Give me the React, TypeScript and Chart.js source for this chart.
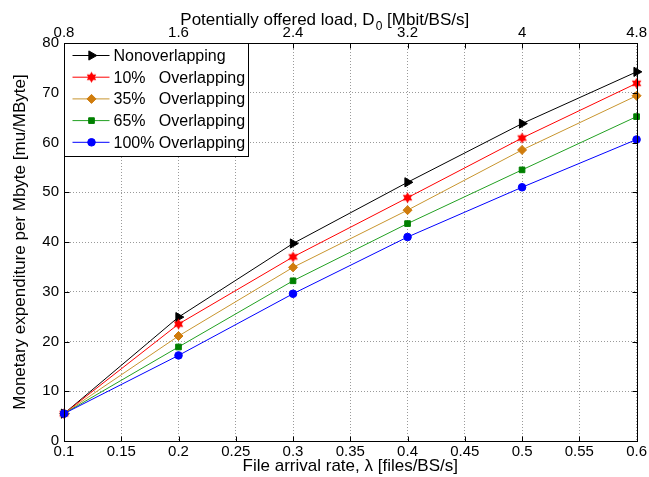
import React, { useEffect, useRef } from 'react';
import { Chart, registerables } from 'chart.js';
import { drawPoint } from 'chart.js/helpers';

Chart.register(...registerables);

// ---- data ----
const xValues = [0.1, 0.2, 0.3, 0.4, 0.5, 0.6];
const seriesLabels = [
  'Nonoverlapping',
  '10%   Overlapping',
  '35%   Overlapping',
  '65%   Overlapping',
  '100% Overlapping',
];
const nonOverlapping = [5.5, 24.9, 39.7, 52.0, 63.8, 74.2];
const overlap10 = [5.5, 23.5, 37.0, 48.9, 60.9, 71.9];
const overlap35 = [5.5, 21.1, 34.9, 46.4, 58.5, 69.4];
const overlap65 = [5.5, 18.9, 32.2, 43.7, 54.5, 65.2];
const overlap100 = [5.5, 17.2, 29.6, 41.0, 51.0, 60.6];
const bottomTickLabels = ['0.1', '0.15', '0.2', '0.25', '0.3', '0.35', '0.4', '0.45', '0.5', '0.55', '0.6'];
const topTickLabels = ['0.8', '1.6', '2.4', '3.2', '4', '4.8'];

const xTitle = 'File arrival rate, \u03bb [files/BS/s]';
const yTitle = 'Monetary expenditure per Mbyte [mu/MByte]';
const topTitleMain = 'Potentially offered load, D';
const topTitleSub = '0';
const topTitleRest = ' [Mbit/BS/s]';

const FONT = '"Liberation Sans", Arial, Helvetica, sans-serif';

function makeHexagram(color: string, r: number): HTMLCanvasElement {
  const c = document.createElement('canvas');
  const s = Math.ceil(2 * r + 2);
  c.width = s;
  c.height = s;
  const ctx = c.getContext('2d')!;
  ctx.beginPath();
  for (let i = 0; i < 12; i++) {
    const ang = -Math.PI / 2 + (i * Math.PI) / 6;
    const rr = i % 2 === 0 ? r : r / Math.sqrt(3);
    ctx.lineTo(s / 2 + rr * Math.cos(ang), s / 2 + rr * Math.sin(ang));
  }
  ctx.closePath();
  ctx.fillStyle = color;
  ctx.fill();
  return c;
}

const align = (v: number) => Math.round(v) + 0.5;

const framePlugin = {
  id: 'frame',
  afterDatasetsDraw(chart: any) {
    const { ctx, chartArea: a, scales } = chart;
    const L = align(a.left), R = align(a.right), T = align(a.top), B = align(a.bottom);
    ctx.save();
    ctx.strokeStyle = '#000';
    ctx.lineWidth = 1;
    ctx.beginPath();
    const tl = 5;
    scales.x.ticks.forEach((t: any) => {
      const px = align(scales.x.getPixelForValue(t.value));
      ctx.moveTo(px, B); ctx.lineTo(px, B - tl);
      ctx.moveTo(px, T); ctx.lineTo(px, T + tl);
    });
    scales.y.ticks.forEach((t: any) => {
      const py = align(scales.y.getPixelForValue(t.value));
      ctx.moveTo(L, py); ctx.lineTo(L + tl, py);
      ctx.moveTo(R, py); ctx.lineTo(R - tl, py);
    });
    ctx.stroke();
    ctx.strokeRect(L, T, R - L, B - T);

    // legend
    const lw = 184, lh = 113;
    ctx.fillStyle = '#fff';
    ctx.fillRect(L, T, lw, lh);
    ctx.strokeRect(L, T, lw, lh);
    ctx.font = '16px ' + FONT;
    ctx.textBaseline = 'middle';
    ctx.textAlign = 'left';
    chart.data.datasets.forEach((ds: any, i: number) => {
      const y = T + 12 + i * 21.7;
      ctx.strokeStyle = ds.borderColor;
      ctx.lineWidth = 1;
      ctx.beginPath();
      ctx.moveTo(L + 8, y);
      ctx.lineTo(L + 45, y);
      ctx.stroke();
      ctx.fillStyle = ds.pointBackgroundColor;
      ctx.strokeStyle = ds.pointBorderColor;
      drawPoint(ctx, {
        pointStyle: ds.pointStyle,
        rotation: ds.pointRotation || 0,
        radius: ds.pointRadius,
        borderWidth: 1,
      } as any, L + 27, y);
      ctx.fillStyle = '#000';
      ctx.fillText(ds.label, L + 49, y + 1);
    });

    // top title
    const cx = (a.left + a.right) / 2 - 170;
    ctx.fillStyle = '#000';
    ctx.textBaseline = 'alphabetic';
    ctx.font = '17px ' + FONT;
    ctx.fillText(topTitleMain, cx, 25);
    let w = ctx.measureText(topTitleMain).width;
    ctx.font = '12px ' + FONT;
    ctx.fillText(topTitleSub, cx + w + 1, 30);
    w += ctx.measureText(topTitleSub).width + 1;
    ctx.font = '17px ' + FONT;
    ctx.fillText(topTitleRest, cx + w, 25);
    ctx.restore();
  },
};

function toPoints(ys: number[]) {
  return xValues.map((x, i) => ({ x, y: ys[i] }));
}

export default function App() {
  const ref = useRef<HTMLCanvasElement | null>(null);
  useEffect(() => {
    document.body.style.margin = '0';
    const star = makeHexagram('#ff0000', 5.5);
    const mk = (i: number, ys: number[], line: string, fill: string, style: any, radius: number, rotation = 0) => ({
      label: seriesLabels[i],
      data: toPoints(ys),
      borderColor: line,
      backgroundColor: fill,
      borderWidth: 1,
      pointStyle: style,
      pointRotation: rotation,
      pointRadius: radius,
      pointHoverRadius: radius,
      pointBackgroundColor: fill,
      pointBorderColor: fill,
      pointBorderWidth: 1,
      order: 4 - i,
      clip: false as any,
      tension: 0,
    });
    const chart = new Chart(ref.current!, {
      type: 'line',
      data: {
        datasets: [
          mk(0, nonOverlapping, '#000000', '#000000', 'triangle', 5.3, 90),
          mk(1, overlap10, '#ff0000', '#ff0000', star, 5),
          mk(2, overlap35, '#c8952e', '#d07c0c', 'rectRot', 4.5),
          mk(3, overlap65, '#22a022', '#008000', 'rect', 4),
          mk(4, overlap100, '#0000ff', '#0000ff', 'circle', 3.8),
        ],
      },
      options: {
        responsive: false,
        animation: false,
        events: [],
        layout: { padding: { left: 0, right: 11, top: 0, bottom: 0 } },
        plugins: { legend: { display: false }, tooltip: { enabled: false } },
        scales: {
          x: {
            type: 'linear',
            position: 'bottom',
            min: 0.1,
            max: 0.6,
            afterFit: (s: any) => { s.height = 36; },
            ticks: {
              stepSize: 0.05,
              color: '#000',
              font: { size: 15, family: FONT },
              padding: 2,
              maxRotation: 0,
              autoSkip: false,
              callback: (_v: any, idx: number) => bottomTickLabels[idx],
            },
            grid: { color: '#9a9a9a', lineWidth: 1, drawTicks: false },
            border: { display: false, dash: [1, 2] },
            title: { display: true, text: xTitle, color: '#000', font: { size: 17, family: FONT }, padding: { top: 0, bottom: 0 } },
          },
          x2: {
            type: 'linear',
            position: 'top',
            min: 0.1,
            max: 0.6,
            afterFit: (s: any) => { s.height = 43; },
            ticks: {
              stepSize: 0.1,
              color: '#000',
              font: { size: 15, family: FONT },
              padding: 1,
              maxRotation: 0,
              autoSkip: false,
              callback: (_v: any, idx: number) => topTickLabels[idx],
            },
            grid: { display: false, drawTicks: false },
            border: { display: false },
          },
          y: {
            type: 'linear',
            position: 'left',
            min: 0,
            max: 80,
            afterFit: (s: any) => { s.width = 64; },
            ticks: { stepSize: 10, color: '#000', font: { size: 15, family: FONT }, padding: 5 },
            grid: { color: '#9a9a9a', lineWidth: 1, drawTicks: false },
            border: { display: false, dash: [1, 2] },
            title: { display: true, text: yTitle, color: '#000', font: { size: 17, family: FONT }, padding: { top: 10, bottom: 0 } },
          },
        },
      },
      plugins: [framePlugin],
    } as any);
    return () => chart.destroy();
  }, []);
  return <canvas ref={ref} width={649} height={477} style={{ display: 'block' }} />;
}
